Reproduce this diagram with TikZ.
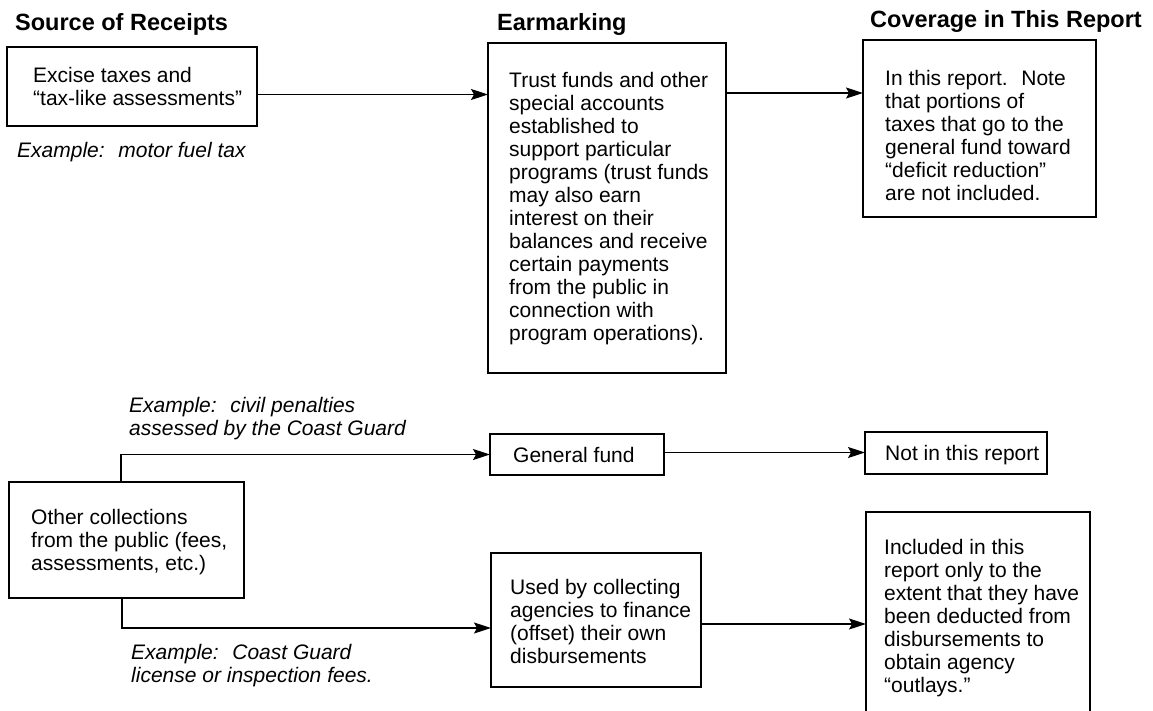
\documentclass[tikz,border=0pt]{standalone}
\usepackage{fontspec}
\setmainfont{Liberation Sans}
\usetikzlibrary{arrows.meta}
\tikzset{
  boxnode/.style={draw, line width=1.2pt, inner sep=0pt, outer sep=0pt},
  txt/.style={anchor=north west, inner sep=0pt, align=left, font=\fontsize{21}{23}\selectfont},
  txtone/.style={anchor=base west, inner sep=0pt, font=\fontsize{21}{23}\selectfont},
  example/.style={anchor=north west, inner sep=0pt, align=left, font=\fontsize{21}{23}\selectfont\itshape},
  heading/.style={anchor=base west, inner sep=0pt, font=\fontsize{23.5}{26}\selectfont\bfseries},
  arr/.style={line width=1.2pt, -{Stealth[length=17pt,width=11pt,inset=3pt]}}
}
\begin{document}
\begin{tikzpicture}[x=1pt,y=-1pt]
\useasboundingbox (0,0) rectangle (1153,711);
% headings
\node[heading] (h1) at (15,31) {Source of Receipts};
\node[heading] (h2) at (497,31) {Earmarking};
\node[heading] (h3) at (870,28) {Coverage in This Report};
% boxes
\node[boxnode, minimum width=250pt, minimum height=79pt] (b1) at (132,86.5) {};
\node[boxnode, minimum width=238pt, minimum height=330pt] (b2) at (607,208) {};
\node[boxnode, minimum width=233pt, minimum height=177pt] (b3) at (979.5,128.5) {};
\node[boxnode, minimum width=235pt, minimum height=116pt] (b4) at (126.5,540) {};
\node[boxnode, minimum width=174pt, minimum height=41pt] (b5) at (577,454.5) {};
\node[boxnode, minimum width=182pt, minimum height=42pt] (b6) at (956,453) {};
\node[boxnode, minimum width=210pt, minimum height=134pt] (b7) at (596,620) {};
\node[boxnode, minimum width=224pt, minimum height=230pt] (b8) at (978,627) {};
% texts
\node[txt] (t1) at (33,67) {Excise taxes and\\“tax-like assessments”};
\node[txt] (t2) at (509,72) {Trust funds and other\\special accounts\\established to\\support particular\\programs (trust funds\\may also earn\\interest on their\\balances and receive\\certain payments\\from the public in\\connection with\\program operations).};
\node[txt] (t3) at (885,70) {In this report.~ Note\\that portions of\\taxes that go to the\\general fund toward\\“deficit reduction”\\are not included.};
\node[txt] (t4) at (31,509) {Other collections\\from the public (fees,\\assessments, etc.)};
\node[txtone] (t5) at (513,462) {General fund};
\node[txtone] (t6) at (885,460) {Not in this report};
\node[txt] (t7) at (510,579) {Used by collecting\\agencies to finance\\(offset) their own\\disbursements};
\node[txt] (t8) at (884,539) {Included in this\\report only to the\\extent that they have\\been deducted from\\disbursements to\\obtain agency\\“outlays.”};
% examples
\node[example] (e1) at (17,142) {Example:~ motor fuel tax};
\node[example] (e2) at (129,397) {Example:~ civil penalties\\assessed by the Coast Guard};
\node[example] (e3) at (131,644) {Example:~ Coast Guard\\license or inspection fees.};
% connectors
\coordinate (a1s) at ([yshift=-8pt]b1.east);
\draw[arr] (a1s) -- (a1s -| b2.west);
\coordinate (a2s) at ([yshift=115pt]b2.east);
\draw[arr] (a2s) -- (a2s -| b3.west);
\coordinate (a3s) at ([xshift=-5.5pt]b4.north);
\draw[arr] (a3s) |- (b5.west);
\coordinate (a4s) at ([xshift=-4.5pt]b4.south);
\coordinate (a4e) at ([yshift=-8pt]b7.west);
\draw[arr] (a4s) |- (a4e);
\coordinate (a5s) at ([yshift=2pt]b5.east);
\draw[arr] (a5s) -- (a5s -| b6.west);
\coordinate (a6s) at ([yshift=-4pt]b7.east);
\draw[arr] (a6s) -- (a6s -| b8.west);
\end{tikzpicture}
\end{document}
